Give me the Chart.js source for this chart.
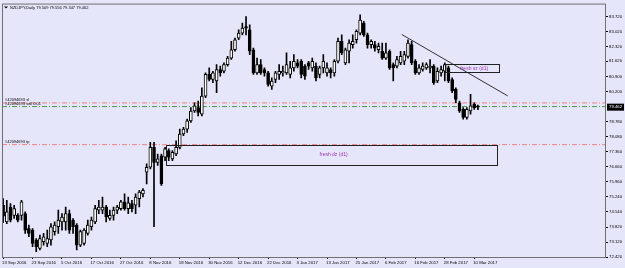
<!DOCTYPE html>
<html>
<head>
<meta charset="utf-8">
<script src="https://cdn.jsdelivr.net/npm/chart.js@4.4.0/dist/chart.umd.min.js"></script>
<style>
html, body { margin: 0; padding: 0; background: #E6E6FA; }
canvas { display: block; }
</style>
</head>
<body>
<canvas id="chart" width="625" height="268"></canvas>
<script>
// NZDJPY daily candles
var opens = [74.85,74.07,74.77,74.38,74.38,74.38,74.46,73.76,73.68,73.22,72.82,73.14,73.06,73.22,73.61,73.84,74.07,74.07,74.46,74.15,
  73.92,72.98,73.06,73.53,73.84,74.07,74.62,74.62,74.77,74.23,74.38,74.62,74.69,75.01,74.69,74.93,74.85,75.16,75.39,76.41,
  76.64,77.57,76.87,77.18,77.11,77.42,77.03,77.26,77.57,78.20,78.43,78.82,79.28,79.44,79.13,79.98,81.00,80.76,80.69,81.23,
  81.15,81.46,81.77,82.16,82.71,82.94,83.25,83.10,82.16,81.07,81.46,81.23,81.07,80.45,80.76,81.00,81.07,81.07,81.00,81.31,
  81.54,81.62,81.39,81.54,81.31,81.39,81.00,81.31,81.07,81.23,81.07,81.62,82.55,81.54,82.09,82.40,82.63,82.94,83.41,82.86,
  82.40,82.40,82.16,82.09,81.77,82.09,81.46,81.39,81.54,81.62,81.85,82.40,81.62,81.07,81.23,81.31,81.31,81.39,80.69,81.07,
  81.15,81.31,80.76,80.30,79.67,79.36,78.98,79.28,79.60,79.509];
var highs = [75.16,75.08,74.93,74.85,74.46,75.08,74.54,73.92,73.76,73.29,73.45,73.53,73.68,73.99,74.07,74.62,74.46,74.77,74.62,74.23,
  73.99,73.68,73.76,74.15,74.30,74.85,75.08,75.24,74.85,74.62,74.77,74.85,75.08,75.39,75.24,75.08,75.39,75.55,75.63,76.80,
  77.81,77.81,77.26,77.26,77.57,77.50,77.42,77.88,78.43,78.51,78.90,79.44,79.67,79.75,80.37,81.07,81.31,81.15,81.46,81.39,
  81.54,81.85,82.55,82.71,83.10,83.41,83.72,83.33,82.24,81.77,81.70,81.31,81.15,80.84,81.15,81.46,81.39,82.01,81.62,81.93,
  81.70,81.70,81.46,81.62,81.77,81.54,81.39,81.93,81.54,81.31,81.70,82.71,82.86,82.24,82.63,82.86,83.10,83.80,83.49,82.94,
  82.63,82.55,82.47,82.47,82.47,82.16,81.54,81.85,82.09,82.09,82.63,82.55,81.70,81.46,81.54,81.54,81.70,81.46,81.31,81.39,
  81.54,81.39,80.84,80.37,79.75,79.44,79.44,80.06,79.67,79.556];
var lows = [74.03,73.99,74.07,74.23,74.07,74.15,73.53,73.37,72.90,72.67,72.75,72.98,72.90,72.98,73.45,73.53,73.68,73.68,73.53,73.53,
  72.75,72.90,72.98,73.45,73.68,73.99,74.46,74.46,74.07,74.15,74.15,74.46,74.62,74.62,74.46,74.54,74.46,74.77,75.24,75.86,
  76.56,73.84,76.72,75.78,76.95,76.95,76.95,77.18,77.50,78.12,78.27,78.74,79.21,79.05,79.05,79.91,80.69,80.61,80.14,80.92,
  81.07,81.39,81.70,82.09,82.63,82.86,82.86,81.93,81.00,81.00,81.00,80.92,80.45,80.30,80.61,80.76,80.92,81.00,80.84,81.15,
  81.31,80.84,80.76,81.23,81.15,80.69,80.84,81.07,80.92,80.84,80.92,81.54,81.93,81.46,81.54,82.24,82.47,82.86,82.79,82.24,
  82.24,82.09,82.01,81.70,81.70,81.23,80.69,81.31,81.46,81.46,81.77,81.46,81.00,81.00,81.15,81.23,81.07,80.53,80.61,80.92,
  80.69,80.61,80.14,79.67,79.21,78.90,78.90,79.13,79.36,79.347];
var closes = [74.34,74.54,74.15,74.69,74.15,75.01,73.68,73.53,73.06,72.90,73.29,73.37,73.29,73.84,73.92,74.15,74.30,74.46,73.68,73.84,
  72.98,73.61,73.68,73.92,74.15,74.69,74.77,74.77,74.30,74.38,74.62,74.77,75.01,74.69,74.96,74.69,75.24,75.47,75.55,76.64,
  77.57,76.87,77.03,75.86,77.50,77.11,77.34,77.57,78.20,78.43,78.82,79.28,79.52,79.21,79.98,81.00,80.76,81.07,81.23,81.07,
  81.46,81.77,82.16,82.63,82.94,83.18,83.18,82.09,81.07,81.46,81.07,81.07,80.53,80.69,81.07,81.15,81.15,81.46,81.31,81.62,
  81.39,81.00,80.92,81.39,81.62,80.84,81.31,81.62,81.31,81.07,81.62,82.55,82.01,82.16,82.47,82.55,83.02,83.56,82.86,82.40,
  82.55,82.24,82.32,81.77,82.01,81.31,81.31,81.70,81.85,81.93,82.47,81.54,81.07,81.31,81.39,81.46,81.39,80.61,81.15,81.23,
  81.46,80.69,80.22,79.83,79.28,78.98,79.36,79.52,79.44,79.462];

var dateLabels = ['13 Sep 2016','23 Sep 2016','5 Oct 2016','17 Oct 2016','27 Oct 2016','8 Nov 2016','18 Nov 2016',
  '30 Nov 2016','12 Dec 2016','22 Dec 2016','3 Jan 2017','13 Jan 2017','25 Jan 2017','6 Feb 2017','16 Feb 2017',
  '28 Feb 2017','10 Mar 2017'];
var labelStep = 8;
var yTicks = [83.72,83.02,82.32,81.62,80.90,80.20,78.78,78.08,77.36,76.66,75.96,75.24,74.54,73.82,73.12,72.42];

// order lines
var orderNames = ['#42094693 sl', '#42094693 sell 0.01', '#42094693 tp'];
var orderLevels = [79.66, 79.49, 77.70];
var orderColors = ['#f08080', '#4a9a4a', '#f08080'];

// supply / demand zones
var zoneText = ['fresh dz (d1)', 'fresh sz (d1)'];
var zoneFrom = [44.3, 120.1];
var zoneTo = [134.2, 134.8];
var zoneTop = [77.70, 81.48];
var zoneBottom = [76.76, 81.11];

// trend line
var trendX = [108.3, 137.1];
var trendY = [82.88, 79.99];

var symbolText = 'NZDJPY,Daily';
var xMin = -0.3, xMax = 163.8;
var yMin = 72.42, yMax = 84.33;

var wicks = [], bodies = [], bodyColors = [];
for (var i = 0; i < opens.length; i++) {
    wicks.push({x: i, y: [lows[i], highs[i]]});
    bodies.push({x: i, y: [opens[i], closes[i]]});
    bodyColors.push(closes[i] >= opens[i] ? '#ffffff' : '#000000');
}

var datasets = [];
orderLevels.forEach(function(lvl, k) {
    datasets.push({
        type: 'line',
        data: [{x: xMin, y: lvl}, {x: xMax, y: lvl}],
        borderColor: orderColors[k],
        borderWidth: 1,
        borderDash: [5, 2, 1, 2],
        pointRadius: 0,
        order: 5
    });
});
datasets.push({
    type: 'bar',
    data: wicks,
    backgroundColor: '#000000',
    barThickness: 1,
    grouped: false,
    order: 3
});
datasets.push({
    type: 'bar',
    data: bodies,
    backgroundColor: bodyColors,
    borderColor: '#000000',
    borderWidth: 1,
    borderSkipped: false,
    barThickness: 3,
    grouped: false,
    order: 2
});
datasets.push({
    type: 'line',
    data: [{x: trendX[0], y: trendY[0]}, {x: trendX[1], y: trendY[1]}],
    borderColor: '#303030',
    borderWidth: 1,
    pointRadius: 0,
    order: 1
});

var extras = {
    id: 'extras',
    beforeDraw: function(chart) {
        var ctx = chart.ctx;
        ctx.save();
        ctx.fillStyle = '#E6E6FA';
        ctx.fillRect(0, 0, chart.width, chart.height);
        ctx.restore();
    },
    afterDatasetsDraw: function(chart) {
        var ctx = chart.ctx, xs = chart.scales.x, ys = chart.scales.y, a = chart.chartArea;
        ctx.save();
        // zones
        for (var k = 0; k < zoneText.length; k++) {
            var x1 = xs.getPixelForValue(zoneFrom[k]), x2 = xs.getPixelForValue(zoneTo[k]);
            var y1 = ys.getPixelForValue(zoneTop[k]), y2 = ys.getPixelForValue(zoneBottom[k]);
            ctx.strokeStyle = '#202020';
            ctx.lineWidth = 1;
            ctx.strokeRect(Math.round(x1) + 0.5, Math.round(y1) + 0.5, Math.round(x2 - x1), Math.round(y2 - y1));
            ctx.fillStyle = '#a030b0';
            ctx.font = '5px "Liberation Sans"';
            ctx.textAlign = 'center';
            ctx.textBaseline = 'middle';
            ctx.fillText(zoneText[k], (x1 + x2) / 2 + 2, (y1 + y2) / 2);
        }
        // order labels
        ctx.font = '4px "Liberation Sans"';
        ctx.textAlign = 'left';
        ctx.textBaseline = 'bottom';
        ctx.fillStyle = '#000';
        var prevY = null;
        orderLevels.forEach(function(lvl, k) {
            var y = ys.getPixelForValue(lvl);
            var ty = y - 1;
            if (prevY !== null && ty - prevY < 4) ty = prevY + 3.5;
            ctx.fillText(orderNames[k], a.left + 3, ty);
            prevY = ty;
        });
        // frame
        ctx.strokeStyle = '#707070';
        ctx.lineWidth = 1;
        ctx.strokeRect(a.left + 0.5, a.top + 0.5, a.right - a.left - 1, a.bottom - a.top);
        // header
        var last = opens.length - 1;
        ctx.fillStyle = '#000';
        ctx.beginPath();
        ctx.moveTo(a.left + 2, a.top + 3);
        ctx.lineTo(a.left + 6, a.top + 3);
        ctx.lineTo(a.left + 4, a.top + 5);
        ctx.closePath();
        ctx.fill();
        ctx.font = '4px "Liberation Sans"';
        ctx.textBaseline = 'middle';
        ctx.fillText(symbolText + ' ' + opens[last].toFixed(3) + ' ' + highs[last].toFixed(3) + ' ' +
            lows[last].toFixed(3) + ' ' + closes[last].toFixed(3), a.left + 8, a.top + 4);
        // current price tag
        var py = ys.getPixelForValue(closes[last]);
        ctx.fillStyle = '#000';
        ctx.fillRect(a.right + 1, py - 3.5, 17, 7);
        ctx.fillStyle = '#fff';
        ctx.font = '4.3px "Liberation Sans"';
        ctx.fillText(closes[last].toFixed(3), a.right + 3, py);
        ctx.restore();
    }
};

var chart = new Chart(document.getElementById('chart').getContext('2d'), {
    type: 'bar',
    data: { datasets: datasets },
    options: {
        responsive: false,
        animation: false,
        layout: { padding: { left: 2, top: 2, right: 0, bottom: 0 } },
        plugins: { legend: { display: false }, tooltip: { enabled: false } },
        scales: {
            x: {
                type: 'linear',
                offset: false,
                min: xMin,
                max: xMax,
                afterBuildTicks: function(s) {
                    s.ticks = dateLabels.map(function(d, k) { return {value: k * labelStep}; });
                },
                afterFit: function(s) { s.height = 11; },
                ticks: {
                    callback: function(v, idx) { return dateLabels[idx]; },
                    align: 'start',
                    labelOffset: -1,
                    maxRotation: 0,
                    autoSkip: false,
                    padding: 1,
                    color: '#000',
                    font: { family: 'Liberation Sans', size: 4.3 }
                },
                grid: { drawOnChartArea: false, tickLength: 2, color: '#000', offset: false },
                border: { display: false }
            },
            y: {
                type: 'linear',
                position: 'right',
                min: yMin,
                max: yMax,
                afterBuildTicks: function(s) {
                    s.ticks = yTicks.map(function(v) { return {value: v}; });
                },
                afterFit: function(s) { s.width = 19; },
                ticks: {
                    callback: function(v) { return v.toFixed(3); },
                    autoSkip: false,
                    padding: 1,
                    color: '#000',
                    font: { family: 'Liberation Sans', size: 4.3 }
                },
                grid: { drawOnChartArea: false, tickLength: 2, color: '#000' },
                border: { display: false }
            }
        }
    },
    plugins: [extras]
});
</script>
</body>
</html>
